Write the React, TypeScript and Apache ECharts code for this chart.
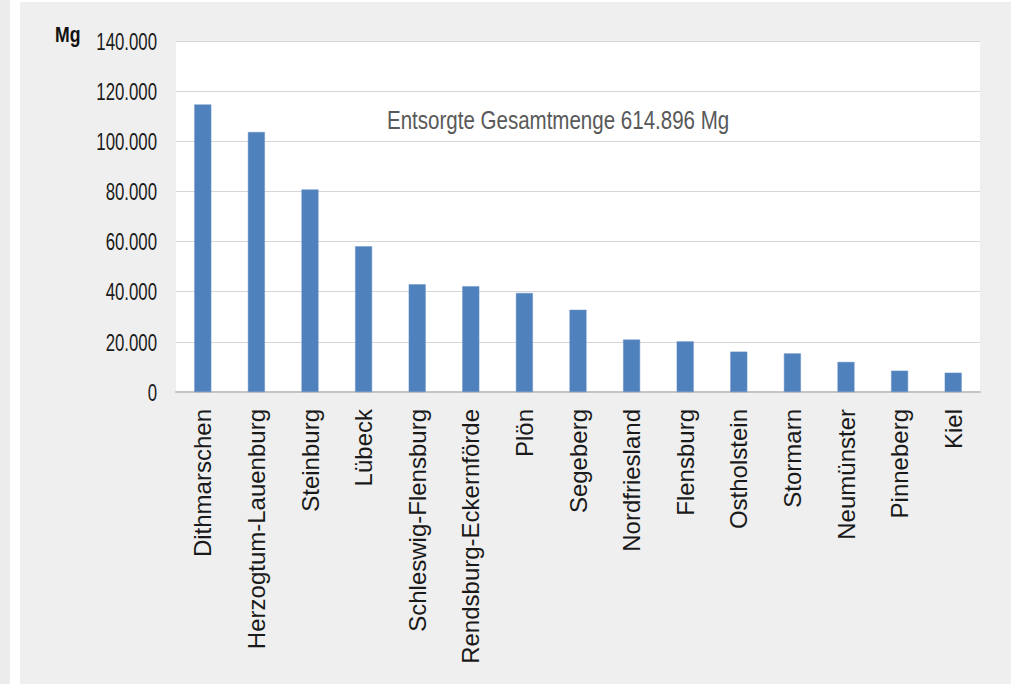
import React, { useEffect, useRef } from "react";
import * as echarts from "echarts";

const categories = [
  "Dithmarschen",
  "Herzogtum-Lauenburg",
  "Steinburg",
  "Lübeck",
  "Schleswig-Flensburg",
  "Rendsburg-Eckernförde",
  "Plön",
  "Segeberg",
  "Nordfriesland",
  "Flensburg",
  "Ostholstein",
  "Stormarn",
  "Neumünster",
  "Pinneberg",
  "Kiel",
];
const values = [
  114700, 103700, 80800, 58100, 43000, 42200, 39500, 32800, 20900, 20200,
  16100, 15400, 12000, 8500, 7700,
];
const yTicks = [0, 20000, 40000, 60000, 80000, 100000, 120000, 140000];
const unitLabel = "Mg";
const titleText = "Entsorgte Gesamtmenge 614.896 Mg";
const yMin = 0;
const yMax = 140000;
const yStep = 20000;

const regular = "'Liberation Sans', Arial, sans-serif";

function fmt(v: number): string {
  return String(Math.round(v)).replace(/\B(?=(\d{3})+(?!\d))/g, ".");
}

export default function App() {
  const ref = useRef<HTMLDivElement>(null);
  useEffect(() => {
    document.body.style.margin = "0";
    const chart = echarts.init(ref.current!, null, { renderer: "svg" });
    const baseGraphic: any[] = [
      { id: "strip", type: "rect", shape: { x: 0, y: 0, width: 10, height: 684 }, style: { fill: "#ececec" }, silent: true, z: -10 },
      { id: "panel", type: "rect", shape: { x: 20, y: 2, width: 991, height: 682 }, style: { fill: "#efefef" }, silent: true, z: -10 },
      {
        id: "unit",
        type: "text",
        x: 55,
        y: 23,
        scaleX: 0.8,
        style: {
          text: unitLabel,
          font: `bold 22px ${regular}`,
          fill: "#111111",
          textVerticalAlign: "top",
        },
        z: 10,
      },
      {
        id: "title",
        type: "text",
        x: 387,
        y: 107,
        scaleX: 0.79,
        style: {
          text: titleText,
          font: `26px ${regular}`,
          fill: "#595959",
          textVerticalAlign: "top",
        },
        z: 10,
      },
    ];
    chart.setOption({
      animation: false,
      backgroundColor: "#ffffff",
      graphic: baseGraphic,
      grid: {
        left: 176,
        right: 36,
        top: 41,
        bottom: 292,
        show: true,
        backgroundColor: "#ffffff",
        borderWidth: 0,
      },
      xAxis: {
        type: "category",
        data: categories,
        axisTick: { show: false },
        axisLine: { lineStyle: { color: "#c4c4c4", width: 2 } },
        axisLabel: {
          rotate: 90,
          interval: 0,
          margin: 17,
          fontFamily: regular,
          fontSize: 24,
          color: "#1a1a1a",
        },
      },
      yAxis: {
        type: "value",
        min: yMin,
        max: yMax,
        interval: yStep,
        axisLine: { show: false },
        axisTick: { show: false },
        splitLine: { lineStyle: { color: "#d6d6d6", width: 1 } },
        axisLabel: { show: false },
      },
      series: [
        {
          type: "bar",
          data: values,
          barWidth: 17,
          itemStyle: { color: "#4f81bd", borderColor: "#6b95c8", borderWidth: 0.5 },
        },
      ],
    });
    const labelGraphics = yTicks.map((v, i) => {
      const py = chart.convertToPixel({ yAxisIndex: 0 }, v) as number;
      return {
        id: "ylab" + i,
        type: "text",
        x: 157,
        y: py,
        scaleX: 0.7,
        style: {
          text: fmt(v),
          font: `24px ${regular}`,
          fill: "#1a1a1a",
          textAlign: "right",
          textVerticalAlign: "middle",
        },
        z: 10,
      };
    });
    chart.setOption({ graphic: [...baseGraphic, ...labelGraphics] });
    return () => chart.dispose();
  }, []);
  return (
    <div
      ref={ref}
      style={{ position: "absolute", left: 0, top: 0, width: 1016, height: 684 }}
    />
  );
}
